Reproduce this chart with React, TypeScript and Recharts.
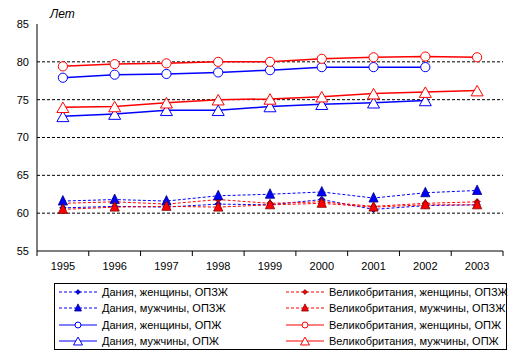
import { CartesianGrid, Line, LineChart, XAxis, YAxis } from "recharts";

const years = ["1995", "1996", "1997", "1998", "1999", "2000", "2001", "2002", "2003"];

// ОПЗЖ (healthy life expectancy)
const dkWomenHale = [60.7, 60.9, 60.8, 61.2, 61.1, 61.8, 60.5, 61.0, 61.1];
const ukWomenHale = [61.3, 61.5, 61.2, 61.8, 61.3, 61.5, 60.9, 61.3, 61.5];
const dkMenHale = [61.6, 61.8, 61.6, 62.3, 62.5, 62.8, 62.0, 62.7, 63.0];
const ukMenHale = [60.5, 60.8, 60.9, 60.8, 61.1, 61.3, 60.8, 61.1, 61.1];

// ОПЖ (life expectancy)
const dkWomenLe = [77.9, 78.3, 78.4, 78.6, 78.9, 79.3, 79.3, 79.3, null];
const ukWomenLe = [79.4, 79.7, 79.8, 80.0, 80.0, 80.4, 80.6, 80.7, 80.6];
const dkMenLe = [72.8, 73.1, 73.6, 73.6, 74.1, 74.4, 74.6, 74.9, null];
const ukMenLe = [74.0, 74.1, 74.6, 75.0, 75.1, 75.4, 75.8, 76.0, 76.2];

const yTicks = [55, 60, 65, 70, 75, 80, 85];

const data = years.map((year, i) => ({
  year,
  dkWomenHale: dkWomenHale[i],
  ukWomenHale: ukWomenHale[i],
  dkMenHale: dkMenHale[i],
  ukMenHale: ukMenHale[i],
  dkWomenLe: dkWomenLe[i],
  ukWomenLe: ukWomenLe[i],
  dkMenLe: dkMenLe[i],
  ukMenLe: ukMenLe[i],
}));

const BLUE = "#0000ff";
const RED = "#ff0000";
const FONT = "'Liberation Sans', Arial, sans-serif";

type Kind = "diamond" | "triFilled" | "circle" | "triHollow";

type Series = {
  key: string;
  name: string;
  color: string;
  dark: string;
  dashed: boolean;
  kind: Kind;
};

// legend order (row-wise, two columns) = drawing order
const series: Series[] = [
  { key: "dkWomenHale", name: "Дания, женщины, ОПЗЖ", color: BLUE, dark: "#000080", dashed: true, kind: "diamond" },
  { key: "ukWomenHale", name: "Великобритания, женщины, ОПЗЖ", color: RED, dark: "#800000", dashed: true, kind: "diamond" },
  { key: "dkMenHale", name: "Дания, мужчины, ОПЗЖ", color: BLUE, dark: "#000080", dashed: true, kind: "triFilled" },
  { key: "ukMenHale", name: "Великобритания, мужчины, ОПЗЖ", color: RED, dark: "#800000", dashed: true, kind: "triFilled" },
  { key: "dkWomenLe", name: "Дания, женщины, ОПЖ", color: BLUE, dark: BLUE, dashed: false, kind: "circle" },
  { key: "ukWomenLe", name: "Великобритания, женщины, ОПЖ", color: RED, dark: RED, dashed: false, kind: "circle" },
  { key: "dkMenLe", name: "Дания, мужчины, ОПЖ", color: BLUE, dark: BLUE, dashed: false, kind: "triHollow" },
  { key: "ukMenLe", name: "Великобритания, мужчины, ОПЖ", color: RED, dark: RED, dashed: false, kind: "triHollow" },
];

function markerShape(s: Series, cx: number, cy: number, scale: number, key?: string | number) {
  if (s.kind === "diamond") {
    const r = 3.2 * scale;
    return (
      <polygon
        key={key}
        points={`${cx},${cy - r} ${cx + r},${cy} ${cx},${cy + r} ${cx - r},${cy}`}
        fill={s.color}
        stroke={s.dark}
        strokeWidth={0.8}
      />
    );
  }
  if (s.kind === "triFilled") {
    const w = 4.6 * scale;
    return (
      <polygon
        key={key}
        points={`${cx},${cy - 5.5 * scale} ${cx + w},${cy + 4 * scale} ${cx - w},${cy + 4 * scale}`}
        fill={s.color}
        stroke={s.dark}
        strokeWidth={0.8}
      />
    );
  }
  if (s.kind === "circle") {
    return <circle key={key} cx={cx} cy={cy} r={4.6 * scale} fill="#fff" stroke={s.color} strokeWidth={1} />;
  }
  const w = 6 * scale;
  return (
    <polygon
      key={key}
      points={`${cx},${cy - 5.2 * scale} ${cx + w},${cy + 5.3 * scale} ${cx - w},${cy + 5.3 * scale}`}
      fill="#fff"
      stroke={s.color}
      strokeWidth={1}
    />
  );
}

const W = 518;
const H = 359;
const LEFT = 37;
const RIGHT = 15;
const BAND = (W - LEFT - RIGHT) / years.length;

function XTick(props: any) {
  const { x, y, payload, index } = props;
  return (
    <g>
      <line x1={x - BAND / 2} x2={x - BAND / 2} y1={y} y2={y + 5} stroke="#000" />
      {index === years.length - 1 && (
        <line x1={x + BAND / 2} x2={x + BAND / 2} y1={y} y2={y + 5} stroke="#000" />
      )}
      <text x={x} y={y + 19} textAnchor="middle" fontSize={11} fontFamily={FONT} fill="#000">
        {payload.value}
      </text>
    </g>
  );
}

function LegendBox() {
  return (
    <div
      style={{
        position: "absolute",
        left: 54,
        top: 283,
        width: 451,
        height: 65,
        border: "1px solid #000",
        display: "grid",
        gridTemplateColumns: "227px 224px",
        gridAutoRows: "16.25px",
        fontFamily: FONT,
        fontSize: 11,
        color: "#000",
      }}
    >
      {series.map((s) => (
        <div key={s.key} style={{ display: "flex", alignItems: "center", paddingLeft: 3, whiteSpace: "nowrap" }}>
          <svg width={40} height={12} style={{ marginRight: 4, flex: "none" }}>
            <line
              x1={1}
              x2={39}
              y1={6}
              y2={6}
              stroke={s.color}
              strokeWidth={1}
              strokeDasharray={s.dashed ? "3 2" : undefined}
            />
            {markerShape(s, 20, 6, s.kind === "circle" ? 0.65 : 0.75)}
          </svg>
          <span>{s.name}</span>
        </div>
      ))}
    </div>
  );
}

export default function App() {
  return (
    <div style={{ position: "absolute", left: 0, top: 0, width: W, height: H, background: "#fff" }}>
      <div
        style={{
          position: "absolute",
          left: 50,
          top: 7,
          fontFamily: FONT,
          fontStyle: "italic",
          fontSize: 12,
          color: "#000",
        }}
      >
        Лет
      </div>
      <LineChart width={W} height={H} data={data} margin={{ top: 24, right: RIGHT, bottom: 78, left: 0 }}>
        <CartesianGrid
          vertical={false}
          horizontalValues={[60, 65, 70, 75, 80]}
          stroke="#000"
          strokeDasharray="3 2"
        />
        <XAxis
          dataKey="year"
          scale="band"
          interval={0}
          tickLine={false}
          tickSize={0}
          tickMargin={0}
          height={30}
          axisLine={{ stroke: "#000" }}
          tick={<XTick />}
        />
        <XAxis
          xAxisId="top"
          orientation="top"
          dataKey="year"
          scale="band"
          height={0}
          tick={false}
          tickLine={false}
          axisLine={{ stroke: "#808080" }}
        />
        <YAxis
          domain={[55, 85]}
          ticks={yTicks}
          width={LEFT}
          tickLine={false}
          tickSize={0}
          tickMargin={8}
          axisLine={{ stroke: "#000" }}
          tick={{ fontSize: 11, fill: "#000", fontFamily: FONT }}
          allowDataOverflow
        />
        <YAxis
          yAxisId="right"
          orientation="right"
          domain={[55, 85]}
          width={0}
          tick={false}
          tickLine={false}
          axisLine={{ stroke: "#808080" }}
        />
        {series.map((s) => (
          <Line
            key={s.key}
            dataKey={s.key}
            name={s.name}
            type="linear"
            stroke={s.color}
            strokeWidth={s.dashed ? 1 : 1.5}
            strokeDasharray={s.dashed ? "3 2" : undefined}
            isAnimationActive={false}
            dot={(p: any) =>
              p.cx == null || p.cy == null || p.value == null ? (
                <g key={p.index} />
              ) : (
                markerShape(s, p.cx, p.cy, 1, p.index)
              )
            }
            activeDot={false}
          />
        ))}
      </LineChart>
      <LegendBox />
    </div>
  );
}
